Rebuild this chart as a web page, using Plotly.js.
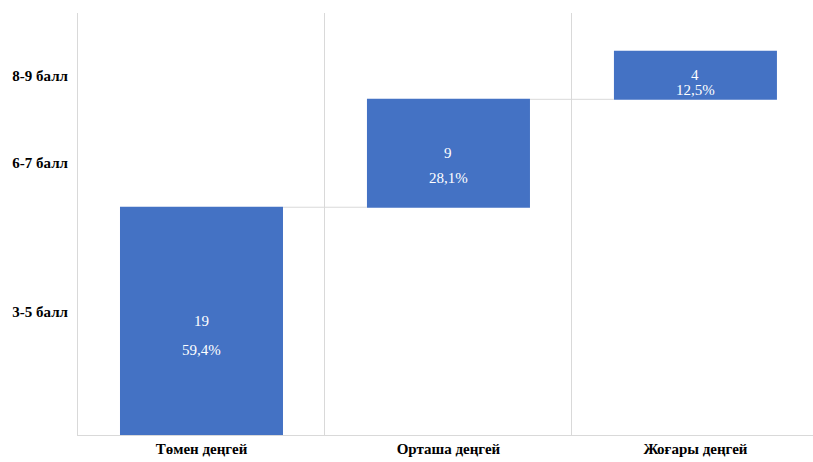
<!DOCTYPE html>
<html>
<head>
<meta charset="utf-8">
<script src="https://cdn.plot.ly/plotly-3.0.1.min.js"></script>
<style>
html,body{margin:0;padding:0;background:#fff}
#chart{width:813px;height:462px}
.modebar-container,.modebar{display:none !important}
</style>
</head>
<body>
<div id="chart"></div>
<script>
const categories = ['Төмен деңгей', 'Орташа деңгей', 'Жоғары деңгей'];
const counts = [19, 9, 4];
const percents = ['59,4%', '28,1%', '12,5%'];
const yTickVals = [10.25, 22.75, 30];
const yTickText = ['3-5 балл', '6-7 балл', '8-9 балл'];

// styling: pixel offset of the percent label below each value label
const pctShift = [-29, -25, -15];
const SERIF = 'Liberation Serif';

const bases = [];
let acc = 0;
counts.forEach(v => { bases.push(acc); acc += v; });

const annotations = [];
categories.forEach((c, i) => {
  const mid = bases[i] + counts[i] / 2;
  annotations.push({x: c, y: mid, text: String(counts[i]), showarrow: false,
    font: {family: SERIF, size: 15, color: '#ffffff'}});
  annotations.push({x: c, y: mid, yshift: pctShift[i], text: percents[i], showarrow: false,
    font: {family: SERIF, size: 15, color: '#ffffff'}});
});

const trace = {
  type: 'waterfall',
  x: categories,
  y: counts,
  measure: counts.map(() => 'relative'),
  increasing: {marker: {color: '#4472C4'}},
  connector: {mode: 'between', line: {color: '#d9d9d9', width: 1}},
  hoverinfo: 'none',
  textinfo: 'none'
};

const layout = {
  width: 813, height: 462,
  margin: {l: 78, r: 0, t: 13, b: 27},
  showlegend: false,
  waterfallgap: 0.34,
  font: {family: SERIF},
  xaxis: {
    type: 'category',
    range: [-0.5, 2.476],
    tickson: 'boundaries',
    showgrid: true, gridcolor: '#d9d9d9', gridwidth: 1,
    showline: true, linecolor: '#d9d9d9', linewidth: 1,
    ticks: '',
    tickfont: {family: SERIF, size: 15, color: '#000000', weight: 'bold'},
    zeroline: false
  },
  yaxis: {
    range: [0, 35.2],
    tickmode: 'array', tickvals: yTickVals, ticktext: yTickText,
    showgrid: false, zeroline: false,
    showline: true, linecolor: '#d9d9d9', linewidth: 1,
    ticks: 'outside', ticklen: 6, tickcolor: 'rgba(0,0,0,0)',
    tickfont: {family: SERIF, size: 15, color: '#000000', weight: 'bold'}
  },
  annotations: annotations
};

Plotly.newPlot('chart', [trace], layout);
</script>
</body>
</html>
